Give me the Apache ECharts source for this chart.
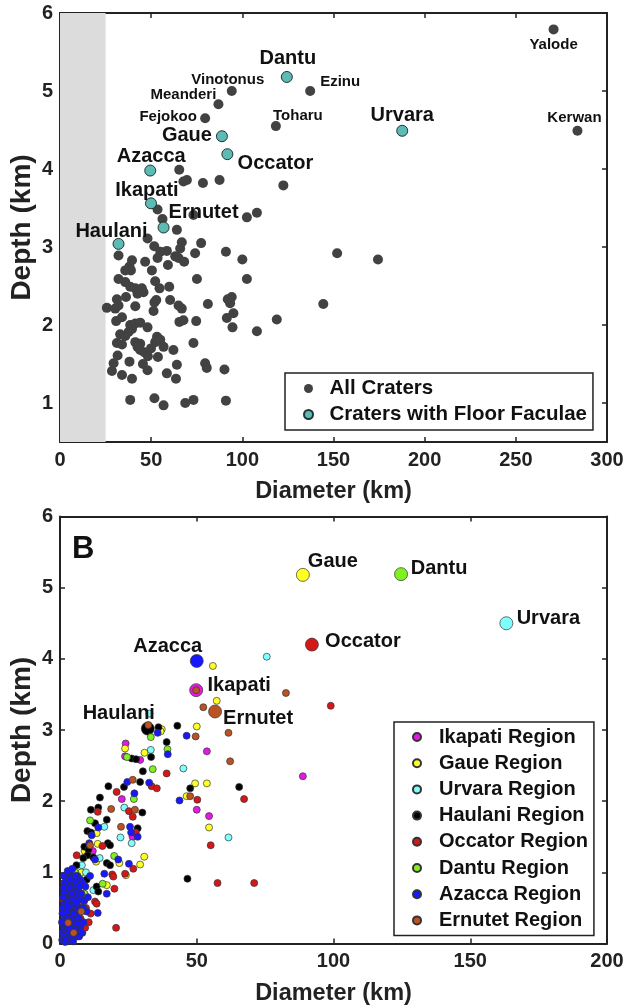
<!DOCTYPE html>
<html>
<head>
<meta charset="utf-8">
<script src="https://cdn.jsdelivr.net/npm/echarts@6/dist/echarts.min.js"></script>
<style>
  html, body { margin: 0; padding: 0; background: #fff; }
  #chart { width: 637px; height: 1007px; }
</style>
</head>
<body>
<div id="chart"></div>
<script>
// ---------- Panel A: crater diameter vs depth ----------
// [diameter km, depth km]
const allCraters = [
  [65.4,3.99],[67.7,3.84],[69.6,3.86],[78.4,3.82],[87.5,3.86],[122.5,3.79],
  [53.5,3.48],[56.2,3.36],[73.2,3.41],[102.5,3.38],[108,3.44],
  [64.1,3.22],[48,3.11],[66.8,3.06],[77.4,3.05],[51.7,3.01],[32.1,2.89],[55,2.94],[58.6,2.95],
  [65.9,2.98],[63.2,2.88],[65,2.86],[53.5,2.86],[68.1,2.81],[74.1,2.92],[91,2.94],[100,2.84],
  [39.5,2.83],[46.7,2.81],[38.1,2.75],[35.8,2.70],[38.9,2.70],[50.4,2.70],[59.2,2.77],
  [32.1,2.59],[35.8,2.55],[52.2,2.56],[75.1,2.59],[102.5,2.59],[38.5,2.49],[41.3,2.47],
  [44.9,2.47],[45.8,2.42],[42.5,2.40],[54.6,2.47],[59.9,2.49],[36.2,2.36],[52.8,2.32],
  [51.8,2.29],[60.4,2.32],[65,2.25],[66.8,2.21],[31.2,2.33],[32.1,2.25],[30.3,2.21],
  [25.7,2.22],[41.3,2.24],[51.3,2.18],[81.1,2.27],[92,2.33],[94.2,2.36],[93.3,2.28],
  [95.1,2.15],[91.5,2.09],[118.9,2.07],[65.5,2.04],[67.7,2.06],[74.7,2.05],[30.8,2.05],
  [34,2.10],[38.5,2.0],[41.3,2.02],[44,2.03],[48,1.97],[37.6,1.91],[39.5,1.95],[94.6,1.97],
  [108,1.92],[33,1.88],[35.8,1.86],[53.2,1.85],[55,1.81],[52.2,1.78],[31.2,1.77],[34,1.75],
  [41.3,1.78],[44,1.76],[42.5,1.72],[56.8,1.72],[73.2,1.77],[62.2,1.68],[44,1.68],[46.2,1.65],
  [49.9,1.70],[48.2,1.60],[53.7,1.59],[31.6,1.61],[29.4,1.51],[28.5,1.41],[38.1,1.53],
  [45.5,1.50],[48,1.42],[64.1,1.49],[79.6,1.51],[80.5,1.45],[90.2,1.43],[58.6,1.38],[34,1.36],
  [39.5,1.31],[63.6,1.31],[38.5,1.04],[51.8,1.06],[56.8,0.97],[68.7,1.0],[73.2,1.04],[91,1.03],
  [152,2.92],[174.4,2.84],[144.4,2.27]
];
const namedCraterNames = ['Yalode','Vinotonus','Ezinu','Meanderi','Fejokoo','Toharu','Kerwan'];
const namedCraterPoints = [[270.7,5.79],[94.2,5.0],[137.2,5.0],[86.9,4.83],[79.6,4.65],[118.4,4.55],[283.8,4.49]];
const faculaeNames = ['Dantu','Gaue','Urvara','Occator','Azacca','Ikapati','Ernutet','Haulani'];
const faculaePoints = [[124.4,5.18],[88.8,4.42],[187.7,4.49],[91.8,4.19],[49.5,3.98],[49.9,3.56],[56.8,3.25],[32.1,3.04]];
const shadedDiameter = [0, 25];
const depthTicksA = [1, 2, 3, 4, 5, 6];

// ---------- Panel B: craters grouped by region ----------
const regionNames = ['Ikapati Region','Gaue Region','Urvara Region','Haulani Region',
                     'Occator Region','Dantu Region','Azacca Region','Ernutet Region'];
const regionCraterNames = ['Ikapati','Gaue','Urvara','Haulani','Occator','Dantu','Azacca','Ernutet'];
const regionMainCraters = [[49.8,3.56],[88.8,5.18],[163.2,4.50],[32.1,3.02],[92.1,4.20],[124.7,5.19],[50,3.97],[56.7,3.26]];

const ikapatiRegion = [[88.8,2.35],[53.7,2.70],[50,1.88],[54.5,1.79],[24,2.81],[23.8,2.63],[29.3,2.58],
  [22.6,2.03],[26.5,1.5],[12,1.3],[8.5,0.6],[6.2,0.55],[4.5,0.3]];
const gaueRegion = [[55.9,3.90],[57.3,3.41],[50,3.05],[37.2,3.01],[36.8,2.98],[49.4,2.25],[53.7,2.25],
  [46.3,2.07],[54.5,1.63],[23.8,2.74],[30.9,2.68],[13.8,1.40],[13.4,1.55],[13.2,1.15],[21.7,1.13],
  [30.8,1.22],[29.3,1.11],[24.1,0.96],[17.1,0.82],[9,1.3],[5.8,0.7],[7.8,1.0]];
const urvaraRegion = [[75.6,4.03],[32.7,3.23],[33.2,2.72],[45.1,2.46],[61.6,1.49],[23.5,1.91],[16.2,1.64],
  [22.1,1.49],[26.2,1.41],[12.2,0.75],[9.5,1.0],[4.5,0.95],[6.5,0.8],[8,1.1],[7.3,0.2],[14.5,1.2]];
const haulaniRegion = [[36,3.04],[42.9,3.06],[39,2.83],[65.5,2.20],[47.6,2.18],[46.6,0.91],[26.2,2.60],
  [27.8,2.59],[33.3,2.62],[30.3,2.42],[17.7,2.21],[23.4,2.20],[29.3,2.27],[14.6,2.05],[11.3,1.88],
  [14,1.91],[30.1,1.84],[17.1,1.74],[28.4,1.62],[12.8,1.69],[10,1.58],[11.3,1.56],[17.5,1.41],
  [18.3,1.38],[8.9,1.36],[10.4,1.32],[10.1,1.24],[12.2,1.21],[17.1,1.13],[18.3,1.10],[13.4,0.80],
  [14,0.73],[2,0.5],[4,0.8],[6,1.1],[7,0.5],[3.5,0.25],[8.5,1.2],[9.8,0.9]];
const occatorRegion = [[99,3.34],[39,2.39],[50.2,2.02],[67.3,2.03],[55.1,1.38],[57.6,0.85],[71,0.85],
  [20.7,2.13],[33.5,2.21],[35.4,2.18],[13.8,1.85],[25.2,1.86],[26.6,1.78],[27.7,1.56],[15.5,1.37],
  [6.1,1.24],[26.8,1.05],[23.8,0.98],[19.1,0.97],[19.5,0.94],[19.9,0.77],[12.8,0.59],[13.4,0.56],
  [20.5,0.22],[2.5,0.05],[4.5,0.35],[5.5,0.6],[7.5,0.35],[8.2,0.15],[6.5,0.1],[3.0,0.7],[9.5,0.5],
  [1.5,0.85],[10.5,0.3],[1.1,0.62],[9.2,0.22],[11.2,0.42]];
const dantuRegion = [[39.3,2.73],[24.5,2.62],[33.2,2.90],[33.9,2.45],[27,2.03],[11,1.73],[19.8,1.23],
  [15.6,0.84],[3.3,0.55],[5.5,1.0],[6.8,0.3],[4.2,0.45],[9,0.7]];
const azaccaRegion = [[46.3,2.92],[39.4,2.66],[43.7,2.01],[35.7,2.96],[24.6,2.27],[32.6,2.26],[27.2,2.11],
  [25.6,1.64],[14,1.63],[11.6,1.52],[26,1.56],[28.4,1.50],[10.7,1.41],[12.8,1.18],[21.3,1.18],
  [25.2,1.12],[16.2,0.98],[17.1,0.70],[13.8,0.43],[2.4,0.96],[3,0.98],
  [0.8,0.05],[1.0,0.15],[1.1,0.3],[1.2,0.08],[1.3,0.42],[1.4,0.22],[1.5,0.55],[1.6,0.12],[1.7,0.35],
  [1.8,0.68],[1.9,0.02],[2.0,0.25],[2.1,0.48],[2.2,0.8],[2.3,0.1],[2.4,0.38],[2.5,0.62],[2.6,0.9],
  [2.7,0.18],[2.8,0.5],[2.9,0.75],[3.0,0.05],[3.1,0.32],[3.2,0.6],[3.3,0.88],[3.4,0.15],[3.5,0.45],
  [3.6,0.7],[3.7,1.0],[3.8,0.25],[3.9,0.55],[4.0,0.82],[4.1,0.08],[4.2,0.38],[4.3,0.65],[4.4,0.92],
  [4.5,0.2],[4.6,0.5],[4.7,0.78],[4.8,0.03],[4.9,0.32],[5.0,0.6],[5.1,0.88],[5.2,0.15],[5.3,0.45],
  [5.4,0.72],[5.6,0.28],[5.7,0.55],[5.8,0.85],[5.9,0.1],[6.0,0.4],[6.1,0.68],[6.3,0.22],[6.4,0.95],
  [6.5,0.5],[6.7,0.75],[6.9,0.35],[7.0,0.1],[7.2,0.62],[7.4,0.9],[7.6,0.25],[7.8,0.7],[8.0,0.5],
  [8.3,0.85],[8.6,0.3],[8.9,0.6],[9.3,0.8],[9.7,0.45],[10.2,0.65],[11,0.95],[2.0,0.95],[1.5,0.72],
  [1.0,0.5],[0.7,0.3],[1.2,0.65],[1.6,0.85],[2.3,0.28],[2.6,0.45],[3.0,0.52],[3.4,0.78],[3.8,0.9],
  [4.2,0.7],[4.6,0.12],[5.0,0.42],[5.5,0.2],[6.0,0.58],[6.6,0.28],[7.1,0.8],[7.9,0.15],[0.9,0.42],
  [1.4,0.95],[2.8,1.02],[4.5,1.05],[5.6,0.95],[3.2,0.22],[2.0,0.05],[1.3,0.78],[8.5,0.5]];
const ernutetRegion = [[82.6,3.52],[52.4,3.32],[49.6,2.91],[61.6,2.96],[62.2,2.56],[47.6,2.07],[32.3,3.07],
  [26.6,2.30],[18.7,1.89],[27.4,1.88],[22.3,1.64],[11,1.38],[3,0.29],[49.8,3.56],[5,0.15],[7.8,0.45]];
const regionPoints = [ikapatiRegion, gaueRegion, urvaraRegion, haulaniRegion,
                      occatorRegion, dantuRegion, azaccaRegion, ernutetRegion];

// ---------- styling ----------
const FONT = '"Liberation Sans", Arial, Helvetica, sans-serif';
const INK = '#111';
const regionColors = ['#e21ae2','#ffff22','#80ffff','#000000','#d41818','#80f020','#1818ff','#bb5222'];

// label centre offsets from the marker, in pixels
const labelOffsetA = {
  Dantu:[1,-18], Gaue:[-35,-1], Urvara:[0,-15], Occator:[48,9], Azacca:[1,-14],
  Ikapati:[-4,-13], Ernutet:[40,-15], Haulani:[-7,-12],
  Yalode:[0,15], Vinotonus:[-4,-11], Ezinu:[30,-9], Meanderi:[-35,-9], Fejokoo:[-37,-1],
  Toharu:[22,-10], Kerwan:[-3,-13]
};
const labelOffsetB = {
  Ikapati:[43,-5], Gaue:[30,-13], Urvara:[42,-5], Haulani:[-29,-15],
  Occator:[51,-3], Dantu:[38,-6], Azacca:[-29,-14], Ernutet:[43,7]
};

function pointLabel(text, offset, size) {
  return {
    show: true, formatter: text, position: 'inside', offset: offset,
    fontFamily: FONT, fontWeight: 'bold', fontSize: size, color: INK, opacity: 1
  };
}

function xAxisPair(gridIndex, max, name) {
  const base = {
    gridIndex: gridIndex, type: 'value', min: 0, max: max, interval: 50,
    splitLine: { show: false },
    axisLine: { show: true, onZero: false, lineStyle: { color: '#222', width: 2 } },
    axisTick: { show: true, inside: true, length: 5, lineStyle: { color: '#222', width: 1.5 } }
  };
  return [
    Object.assign({}, base, {
      position: 'bottom', name: name, nameLocation: 'middle', nameGap: 38,
      nameTextStyle: { fontFamily: FONT, fontWeight: 'bold', fontSize: 23.5, color: '#222' },
      axisLabel: { show: true, margin: 8, fontFamily: FONT, fontWeight: 'bold', fontSize: 20, color: '#222' }
    }),
    Object.assign({}, base, { position: 'top', axisLabel: { show: false } })
  ];
}

function yAxisPair(gridIndex, min, max, ticks) {
  const base = {
    gridIndex: gridIndex, type: 'value', min: min, max: max,
    splitLine: { show: false },
    axisLine: { show: true, onZero: false, lineStyle: { color: '#222', width: 2 } },
    axisTick: { show: true, inside: true, length: 5, customValues: ticks, lineStyle: { color: '#222', width: 1.5 } }
  };
  return [
    Object.assign({}, base, {
      position: 'left', name: 'Depth (km)', nameLocation: 'middle', nameGap: 24, nameMoveOverlap: false,
      nameTextStyle: { fontFamily: FONT, fontWeight: 'bold', fontSize: 28, color: '#222' },
      axisLabel: { show: true, margin: 7, customValues: ticks, fontFamily: FONT, fontWeight: 'bold', fontSize: 20, color: '#222' }
    }),
    Object.assign({}, base, { position: 'right', axisLabel: { show: false } })
  ];
}

// Panel A series
const grayData = allCraters.map(p => ({ value: p })).concat(
  namedCraterNames.map((n, i) => ({
    value: namedCraterPoints[i], name: n, label: pointLabel(n, labelOffsetA[n], 15)
  }))
);
const faculaeData = faculaeNames.map((n, i) => ({
  value: faculaePoints[i], name: n, label: pointLabel(n, labelOffsetA[n], 20)
}));

const series = [
  {
    name: 'All Craters', type: 'scatter', xAxisIndex: 0, yAxisIndex: 0,
    symbolSize: 10, itemStyle: { color: '#424242', opacity: 1 }, data: grayData, z: 3,
    markArea: {
      silent: true, itemStyle: { color: '#dcdcdc', opacity: 1 },
      data: [[{ xAxis: shadedDiameter[0] }, { xAxis: shadedDiameter[1] }]]
    }
  },
  {
    name: 'Craters with Floor Faculae', type: 'scatter', xAxisIndex: 0, yAxisIndex: 0,
    symbolSize: 11, itemStyle: { color: '#5dbab5', borderColor: '#1d3433', borderWidth: 1, opacity: 1 },
    data: faculaeData, z: 4
  }
];

// Panel B series: one per region, main crater drawn large and labelled
regionNames.forEach((rn, i) => {
  const cn = regionCraterNames[i];
  const data = [{
    value: regionMainCraters[i], name: cn, symbolSize: 13,
    label: pointLabel(cn, labelOffsetB[cn], 20)
  }].concat(regionPoints[i].map(p => ({ value: p })));
  series.push({
    name: rn, type: 'scatter', xAxisIndex: 2, yAxisIndex: 2,
    symbolSize: 7,
    itemStyle: { color: regionColors[i], borderColor: '#333', borderWidth: 0.7, opacity: 1 },
    data: data, z: 3
  });
});

const xs = xAxisPair(0, 300, 'Diameter (km)').concat(xAxisPair(1, 200, 'Diameter (km)'));
const ys = yAxisPair(0, 0.5, 6, depthTicksA).concat(yAxisPair(1, 0, 6, [0, 1, 2, 3, 4, 5, 6]));

const legendText = { fontFamily: FONT, fontWeight: 'bold', fontSize: 20.5, lineHeight: 20, color: INK };

const option = {
  animation: false,
  backgroundColor: '#fff',
  grid: [
    { left: 60, top: 13, width: 547, height: 429, outerBoundsMode: 'none', containLabel: false },
    { left: 60, top: 516.5, width: 547, height: 427, outerBoundsMode: 'none', containLabel: false }
  ],
  xAxis: xs,
  yAxis: ys,
  legend: [
    {
      orient: 'vertical', left: 285, top: 373, padding: [5, 6, 5, 18], itemGap: 5,
      itemWidth: 32, itemHeight: 9, icon: 'circle', selectedMode: false,
      borderColor: '#222', borderWidth: 1.5, backgroundColor: '#fff',
      data: ['All Craters', 'Craters with Floor Faculae'], textStyle: legendText
    },
    {
      orient: 'vertical', left: 394, top: 722, padding: [5, 6, 5, 18], itemGap: 6.2,
      itemWidth: 34, itemHeight: 8, icon: 'circle', selectedMode: false,
      borderColor: '#222', borderWidth: 1.5, backgroundColor: '#fff',
      data: regionNames, textStyle: Object.assign({}, legendText, { fontSize: 20 })
    }
  ],
  graphic: [
    { type: 'text', left: 72, top: 24, style: { text: 'A', font: 'bold 31px ' + FONT, fill: INK } },
    { type: 'text', left: 72, top: 534, style: { text: 'B', font: 'bold 31px ' + FONT, fill: INK } }
  ],
  series: series
};

const chart = echarts.init(document.getElementById('chart'), null, { renderer: 'canvas' });
chart.setOption(option);
</script>
</body>
</html>
